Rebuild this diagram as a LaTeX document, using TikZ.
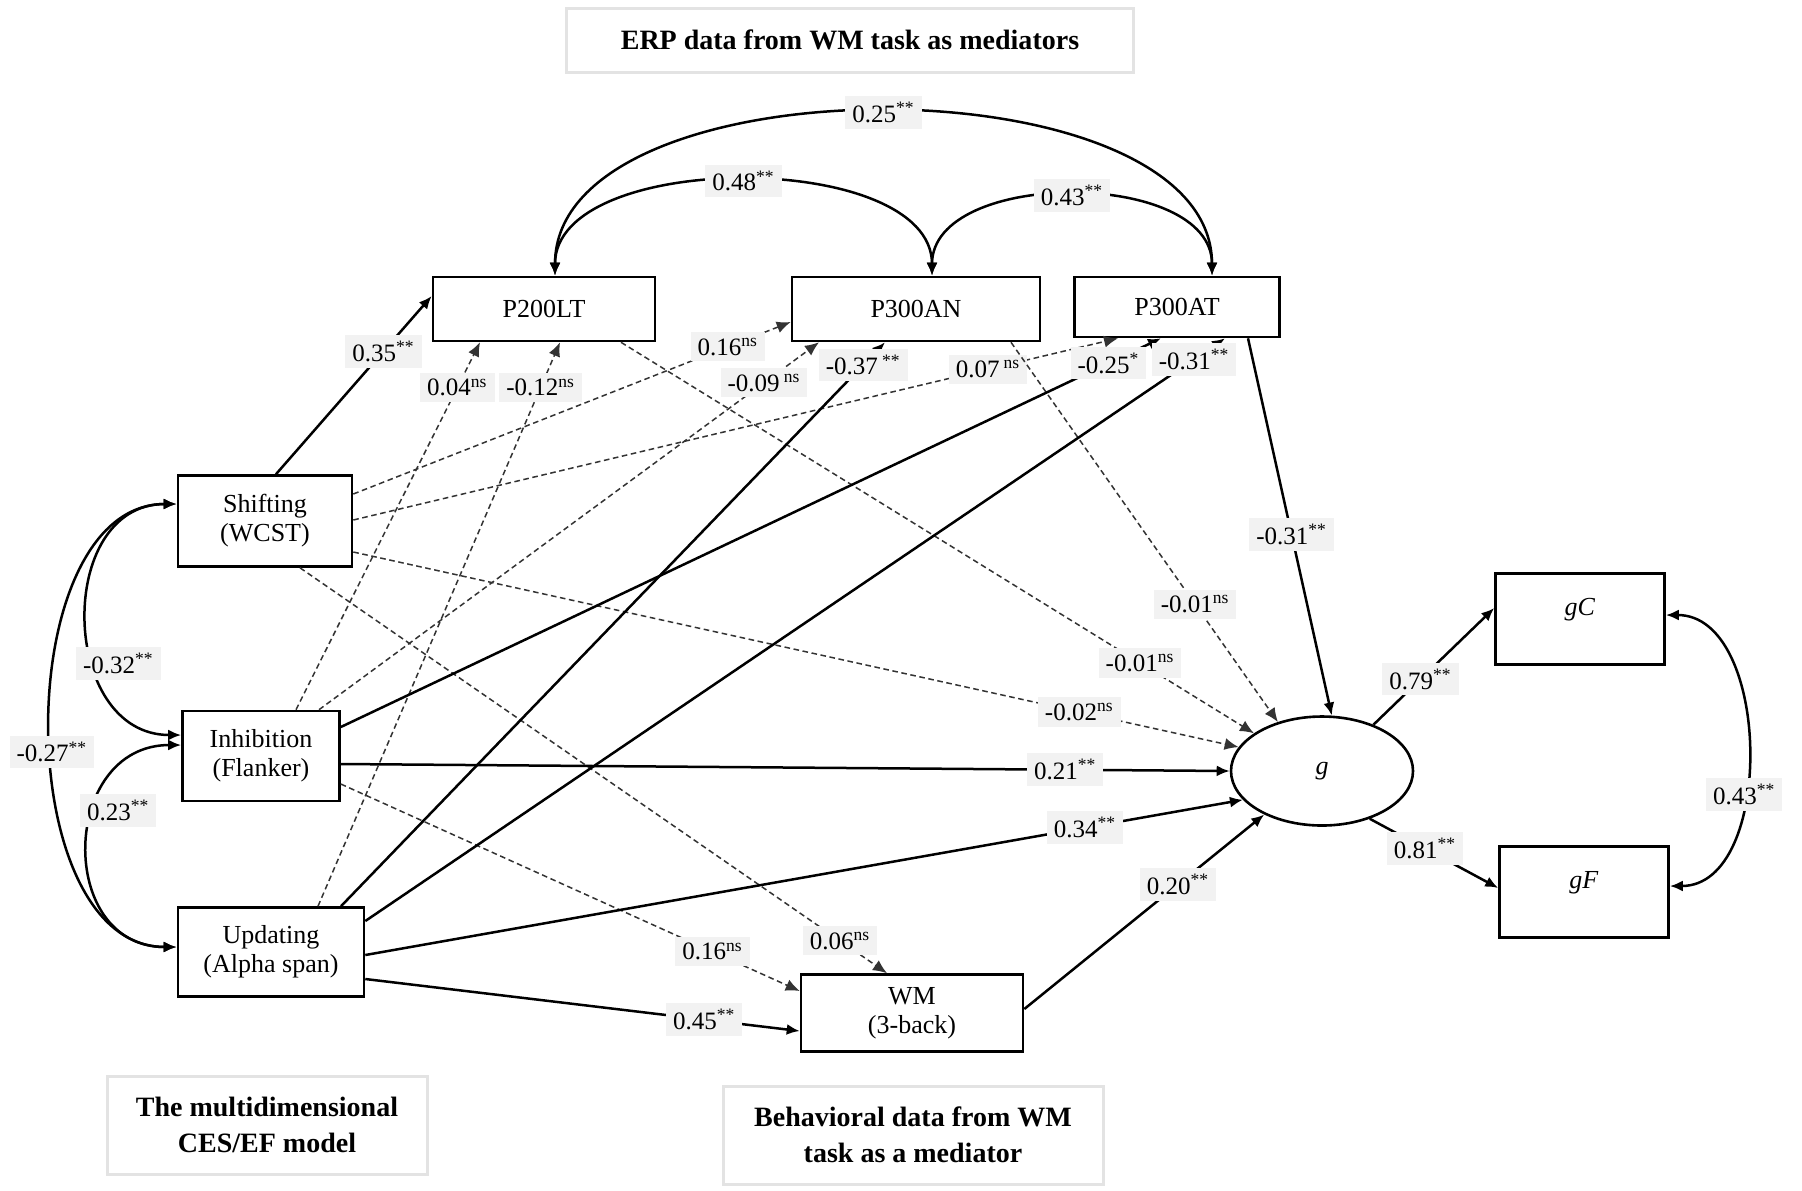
\documentclass[tikz,border=0pt]{standalone}
\usepackage{fontspec}
\setmainfont{Liberation Serif}
\usetikzlibrary{arrows.meta,positioning,shapes.geometric}

\definecolor{labgray}{HTML}{F2F2F2}
\definecolor{framegray}{HTML}{E3E3E3}
\newcommand{\coef}[2]{#1\textsuperscript{#2}}

\tikzset{
  var/.style={draw, line width=1.3pt, inner sep=0pt, align=center,
    font=\fontsize{13}{14.5}\selectfont},
  lat/.style={ellipse, draw, line width=1.3pt, inner sep=0pt,
    minimum width=91pt, minimum height=54.5pt,
    font=\fontsize{13}{14.5}\selectfont\itshape},
  heading/.style={draw=framegray, line width=1.5pt, fill=white, align=center,
    inner sep=0pt, font=\fontsize{14}{18}\selectfont\bfseries},
  coefbox/.style={fill=labgray, inner xsep=3.5pt, inner ysep=3pt,
    font=\fontsize{12.5}{14}\selectfont},
  sig/.style={->, line width=1.25pt},
  nonsig/.style={->, >={Latex[length=7pt,width=6pt]}, line width=0.75pt,
    dash pattern=on 2.8pt off 1.8pt,
    every edge/.append style={draw=black!80}},
  cov/.style={<->, line width=1.25pt}
}

\begin{document}
\begin{tikzpicture}[%
    x=0.5pt, y=-0.5pt,
    >={Latex[length=6.5pt,width=5.5pt]}
    ]
    \path[fill=white] (0,0) rectangle (1802,1190);
    \useasboundingbox (0,0) rectangle (1802,1190);

    % headings
    \node[heading, minimum width=283.5pt, minimum height=32pt] (erp) at (850,40) {ERP data from WM task as mediators};
    \node[heading, minimum width=160pt, minimum height=49pt] (cesef) at (267,1125) {The multidimensional\\CES/EF model};
    \node[heading, minimum width=190pt, minimum height=49pt] (behav) at (913,1135) {Behavioral data from WM\\task as a mediator};

    % variables
    \node[var, minimum width=111pt, minimum height=32pt] (p200) at (544,309) {P200LT};
    \node[var, minimum width=124pt, minimum height=32pt] (p300an) at (916,309) {P300AN};
    \node[var, minimum width=102.5pt, minimum height=30pt] (p300at) at (1177,307) {P300AT};
    \node[var, minimum width=87pt, minimum height=45.5pt] (shift) at (265,521) {Shifting\\(WCST)};
    \node[var, minimum width=78.5pt, minimum height=45pt] (inhib) at (261,756) {Inhibition\\(Flanker)};
    \node[var, minimum width=93pt, minimum height=44.5pt] (updat) at (271,952) {Updating\\(Alpha span)};
    \node[var, minimum width=111pt, minimum height=38.5pt] (wm) at (912,1013) {WM\\(3-back)};
    \node[lat] (g) at (1322,771) {g};
    \node[var, minimum width=84.5pt, minimum height=45.5pt] (gc) at (1580,619) {\raisebox{12pt}{\textit{gC}}};
    \node[var, minimum width=84.5pt, minimum height=45.5pt, on grid, below=136.5pt of gc, xshift=2pt] (gf) {\raisebox{12pt}{\textit{gF}}};

    % non-significant paths
    \path[nonsig] (296,0 |- inhib.north) edge node[coefbox,pos=0.877] {\coef{0.04}{ns}} (480,0 |- p200.south);
    \path[nonsig] (318,0 |- updat.north) edge node[coefbox,pos=0.92] {\coef{-0.12}{ns}} (560,0 |- p200.south);
    \path[nonsig] (shift.east |- 0,494) edge node[coefbox,pos=0.856] {\coef{0.16}{ns}} (p300an.west |- 0,322);
    \path[nonsig] (319,0 |- inhib.north) edge node[coefbox,pos=0.89] {\coef{-0.09\,}{ns}} (819,0 |- p300an.south);
    \path[nonsig] (shift.east |- 0,520) edge node[coefbox,pos=0.83] {\coef{0.07\,}{ns}} (1118,0 |- p300at.south);
    \path[nonsig] (621,0 |- p200.south) edge node[coefbox,pos=0.82] {\coef{-0.01}{ns}} (g.151);
    \path[nonsig] (1011,0 |- p300an.south) edge node[coefbox,pos=0.69] {\coef{-0.01}{ns}} (g.132);
    \path[nonsig] (shift.east |- 0,552) edge node[coefbox,pos=0.82] {\coef{-0.02}{ns}} (g.164);
    \path[nonsig] (300,0 |- shift.south) edge node[coefbox,pos=0.92] {\coef{0.06}{ns}} (887,0 |- wm.north);
    \path[nonsig] (inhib.east |- 0,784) edge node[coefbox,pos=0.81] {\coef{0.16}{ns}} (wm.west |- 0,991);

    % significant paths
    \path[sig] (276,0 |- shift.north) edge node[coefbox,pos=0.69] {\coef{0.35}{**}} (p200.west |- 0,296);
    \path[sig] (341,0 |- updat.north) edge node[coefbox,pos=0.96] {\coef{-0.37\,}{**}} (885,0 |- p300an.south);
    \path[sig] (inhib.east |- 0,727) edge node[coefbox,pos=0.936] {\coef{-0.25}{*}} (1161,0 |- p300at.south);
    \path[sig] (updat.east |- 0,921) edge node[coefbox,pos=0.964] {\coef{-0.31}{**}} (1225,0 |- p300at.south);
    \path[sig] (1248,0 |- p300at.south) edge node[coefbox,pos=0.52] {\coef{-0.31}{**}} (g.80);
    \path[sig] (inhib.east |- 0,764) edge node[coefbox,pos=0.815] {\coef{0.21}{**}} (g.180);
    \path[sig] (updat.east |- 0,955) edge node[coefbox,pos=0.82] {\coef{0.34}{**}} (g.200);
    \path[sig] (updat.east |- 0,979) edge node[coefbox,pos=0.78] {\coef{0.45}{**}} (wm.west |- 0,1031);
    \path[sig] (wm.east |- 0,1009) edge node[coefbox,pos=0.64] {\coef{0.20}{**}} (g.217);
    \path[sig] (g.42) edge node[coefbox,pos=0.39] {\coef{0.79}{**}} (gc.west |- 0,608);
    \path[sig] (g.315) edge node[coefbox,pos=0.43] {\coef{0.81}{**}} (gf.west |- 0,888);

    % covariances
    \path[cov] (555,0 |- p200.north) edge[out=90,in=90,looseness=0.85] node[coefbox] {\coef{0.25}{**}} (1212,0 |- p300at.north);
    \path[cov] (555,0 |- p200.north) edge[out=90,in=90,looseness=0.86] node[coefbox] {\coef{0.48}{**}} (932,0 |- p300an.north);
    \path[cov] (932,0 |- p300an.north) edge[out=90,in=90,looseness=0.98] node[coefbox] {\coef{0.43}{**}} (1212,0 |- p300at.north);
    \path[cov] (shift.west |- 0,504) edge[out=180,in=180,looseness=1.35] node[coefbox,pos=0.63,xshift=12pt] {\coef{-0.32}{**}} (inhib.west |- 0,735);
    \path[cov] (inhib.west |- 0,745) edge[out=180,in=180,looseness=1.53] node[coefbox,pos=0.38,xshift=12pt] {\coef{0.23}{**}} (updat.west |- 0,947);
    \path[cov] (shift.west |- 0,504) edge[out=180,in=180,looseness=0.97] node[coefbox,pos=0.54] {\coef{-0.27}{**}} (updat.west |- 0,947);
    \path[cov] (gc.east |- 0,615) edge[out=0,in=0,looseness=1.0] node[coefbox,pos=0.61] {\coef{0.43}{**}} (gf.east |- 0,886);

\end{tikzpicture}
\end{document}
